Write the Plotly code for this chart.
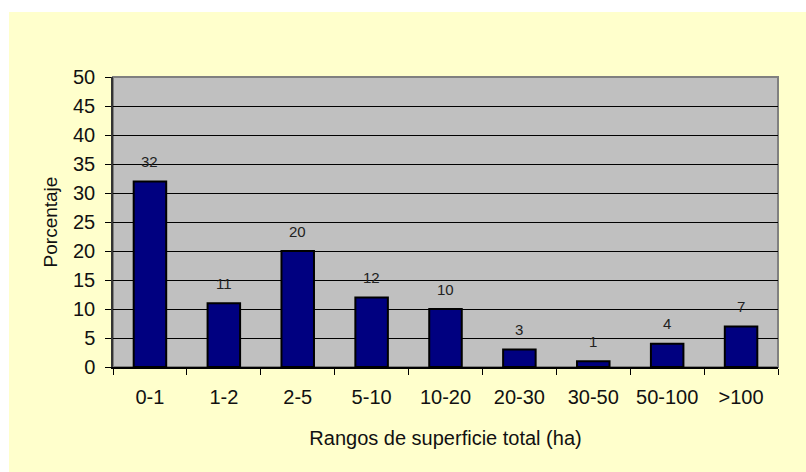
import plotly.graph_objects as go

categories = ["0-1", "1-2", "2-5", "5-10", "10-20", "20-30", "30-50", "50-100", ">100"]
values = [32, 11, 20, 12, 10, 3, 1, 4, 7]

W, H = 806, 472
L, R, T, B = 113, 28, 77, 105
pw, ph = W - L - R, H - T - B

fig = go.Figure()
fig.add_trace(go.Bar(
    x=categories, y=values,
    marker=dict(color="#000080", line=dict(color="#000000", width=2)),
    width=0.44, hoverinfo="x+y",
))

for c, v in zip(categories, values):
    fig.add_annotation(x=c, y=v, text=str(v), showarrow=False, yshift=20,
                       font=dict(family="Liberation Sans, Arial", size=15, color="#222222"))

# white margins outside the yellow chart area (top and left strips)
fig.add_shape(type="rect", xref="paper", yref="paper", layer="below",
              x0=-L / pw - 0.01, x1=(W - L) / pw + 0.01, y0=(ph + T - 12) / ph, y1=(ph + T) / ph + 0.01,
              fillcolor="#FFFFFF", line=dict(width=0))
fig.add_shape(type="rect", xref="paper", yref="paper", layer="below",
              x0=-L / pw - 0.01, x1=(9 - L) / pw, y0=-B / ph - 0.01, y1=(ph + T) / ph + 0.01,
              fillcolor="#FFFFFF", line=dict(width=0))
# grey plot-area border
fig.add_shape(type="rect", xref="paper", yref="paper", layer="between",
              x0=0, x1=1, y0=0, y1=1, line=dict(color="#808080", width=2))

tf = dict(family="Liberation Sans, Arial", size=20, color="#111111")
fig.update_layout(
    width=W, height=H,
    margin=dict(l=L, r=R, t=T, b=B),
    paper_bgcolor="#FFFFCC", plot_bgcolor="#C0C0C0",
    showlegend=False,
    font=tf,
    xaxis=dict(
        showline=True, linecolor="#000000", linewidth=1.5,
        ticks="outside", ticklen=6, tickcolor="#000000", tickson="boundaries",
        tickfont=tf,
        ticklabelstandoff=11,
        title=dict(text="Rangos de superficie total (ha)", standoff=24,
                   font=dict(family="Liberation Sans, Arial", size=20, color="#111111")),
        showgrid=False,
    ),
    yaxis=dict(
        range=[0, 50], dtick=5, tick0=0,
        showline=True, linecolor="#333333", linewidth=1.5,
        ticks="outside", ticklen=6, tickcolor="#000000",
        showgrid=True, gridcolor="#000000", gridwidth=1,
        zeroline=False,
        tickfont=tf,
        ticklabelstandoff=6,
        title=dict(text="Porcentaje", standoff=10,
                   font=dict(family="Liberation Sans, Arial", size=19, color="#111111")),
    ),
)

fig.write_html("out.html", post_script="document.body.style.margin='0';",
               config={"displayModeBar": False})
